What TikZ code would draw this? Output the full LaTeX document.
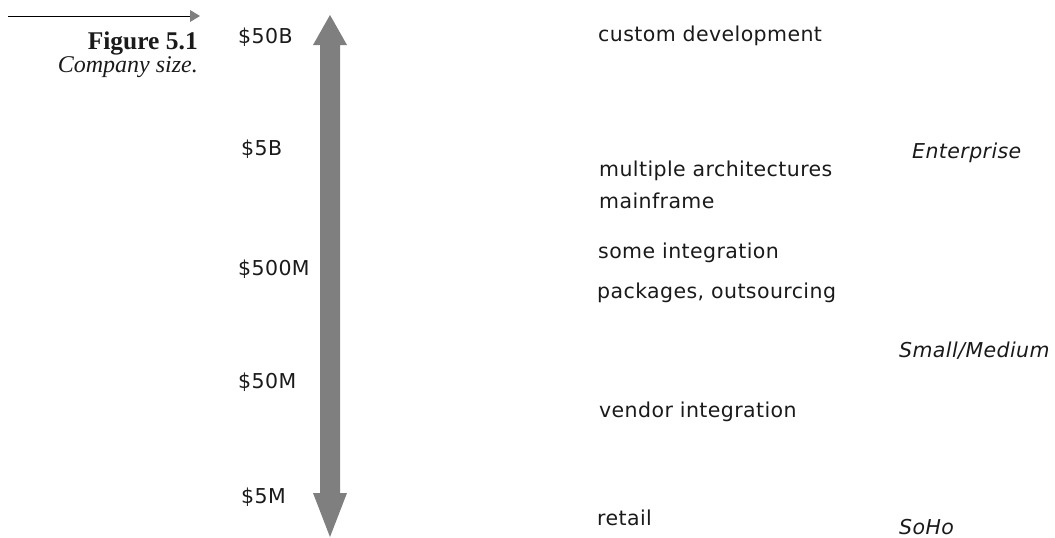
\documentclass[tikz,border=0pt]{standalone}
\usepackage{fontspec}
\setmainfont{Liberation Serif}
\newfontfamily\scalefont[LetterSpace=2]{DejaVu Sans}
\definecolor{bargray}{HTML}{7F7F7F}
\definecolor{inkgray}{HTML}{1A1A1A}
\tikzset{
  lbl/.style={anchor=base west, inner sep=0pt, text=inkgray,
    font=\scalefont\fontsize{20.5}{22}\selectfont},
  seg/.style={lbl, font=\scalefont\itshape\fontsize{20.5}{22}\selectfont},
  figtext/.style={anchor=base east, inner sep=0pt, text=inkgray},
}
\begin{document}
\begin{tikzpicture}[x=1pt, y=-1pt]
\useasboundingbox (0,0) rectangle (1055,538);

% caption pointer
\coordinate (ptrA) at (8,16);
\coordinate (ptrB) at (190,16);
\draw[line width=1pt, black] (ptrA) -- (ptrB);
\fill[bargray] (ptrB) ++(0,-6) -- ++(10,6) -- ++(-10,6) -- cycle;

% caption
\node[figtext, font=\bfseries\fontsize{25.5}{27}\selectfont] (fig) at (198,49) {Figure 5.1};
\node[figtext, font=\itshape\fontsize{24}{26}\selectfont] (figcap) at (198,72) {Company size.};

% revenue scale: double-headed bar
\fill[bargray] (330,15) -- (347,45) -- (340,45) -- (340,493) -- (347,493)
  -- (330,537) -- (313,493) -- (320,493) -- (320,45) -- (313,45) -- cycle;

% scale values
\node[lbl] (v50b)  at (238,43)  {\$50B};
\node[lbl] (v5b)   at (241,155) {\$5B};
\node[lbl] (v500m) at (238,275) {\$500M};
\node[lbl] (v50m)  at (238,388) {\$50M};
\node[lbl] (v5m)   at (241,503) {\$5M};

% typical IT landscape
\node[lbl] (t1) at (598,41)  {custom development};
\node[lbl] (t2) at (599,176) {multiple architectures};
\node[lbl] (t3) at (599,208) {mainframe};
\node[lbl] (t4) at (598,258) {some integration};
\node[lbl] (t5) at (597,298) {packages, outsourcing};
\node[lbl] (t6) at (599,417) {vendor integration};
\node[lbl] (t7) at (597,525) {retail};

% market segments
\node[seg] (s1) at (912,158) {Enterprise};
\node[seg] (s2) at (899,357) {Small/Medium};
\node[seg] (s3) at (899,534) {SoHo};
\end{tikzpicture}
\end{document}
